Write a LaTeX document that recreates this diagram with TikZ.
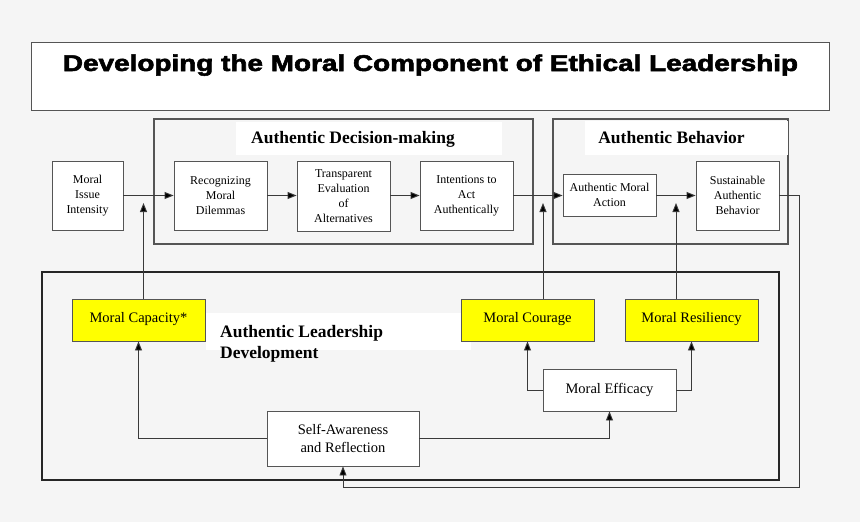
\documentclass[tikz,border=0pt]{standalone}
\usepackage{fontspec}
\setmainfont{Liberation Serif}
\newfontfamily\titlefont[FakeBold=2.2]{Liberation Sans Bold}
\usetikzlibrary{arrows.meta}
\definecolor{bg}{HTML}{F5F5F5}
\definecolor{edge}{HTML}{555555}
\definecolor{wire}{HTML}{3A3A3A}
\definecolor{hl}{HTML}{FFFF00}
\begin{document}
\begin{tikzpicture}[x=1pt,y=-1pt,
  box/.style={draw=edge, line width=0.9pt, fill=white, align=center, inner sep=0pt,
    font=\fontsize{12}{15}\selectfont},
  bigbox/.style={draw=edge, line width=0.9pt, fill=white, align=center, inner sep=0pt,
    font=\fontsize{14.5}{18}\selectfont},
  ybox/.style={draw=edge, line width=0.9pt, fill=hl, align=center, inner sep=0pt,
    font=\fontsize{14.5}{18}\selectfont, minimum width=133pt, minimum height=42pt,
    text height=10pt, text depth=6pt},
  frame/.style={draw=edge, line width=1.2pt, fill=bg},
  label/.style={fill=white, inner sep=0pt},
  head/.style={font=\fontsize{17.5}{21}\selectfont\bfseries, inner sep=0pt},
  arr/.style={draw=wire, line width=0.9pt, -{Triangle[length=9pt,width=7pt,fill=black]}},
  wire/.style={draw=wire, line width=0.9pt}
]
\useasboundingbox (0,0) rectangle (860,522);
\fill[bg] (0,0) rectangle (860,522);

% title
\node[draw=edge, line width=0.9pt, fill=white, minimum width=798pt, minimum height=68pt, inner sep=0pt] (titlebox) at (430,76) {};
\node[inner sep=0pt, anchor=base] (title) at (430.5,71)
  {\resizebox{735pt}{16.5pt}{\titlefont Developing the Moral Component of Ethical Leadership}};

% group frames
\node[frame, minimum width=379pt, minimum height=125pt, inner sep=0pt] (adm) at (343.5,181.5) {};
\node[label, minimum width=266pt, minimum height=33pt] (admlab) at (369,138.5) {};
\node[head, anchor=base] (admtxt) at (353,143) {Authentic Decision-making};

\node[frame, minimum width=235pt, minimum height=125pt, inner sep=0pt] (abh) at (670.5,181.5) {};
\node[label, minimum width=203pt, minimum height=34pt] (abhlab) at (686,138) {};
\node[head, anchor=base] (abhtxt) at (671.5,143) {Authentic Behavior};

\node[draw=black!85, line width=2.5pt, fill=bg, minimum width=737pt, minimum height=208pt, inner sep=0pt] (ald) at (410.5,376) {};
\node[label, minimum width=265pt, minimum height=37pt] (aldlab) at (338.5,331.5) {};
\node[head, anchor=north west, align=left] (aldtxt) at (220,325) {Authentic Leadership\\Development};

% top row
\node[box, minimum width=71pt, minimum height=69pt] (mii) at (87.5,195.5) {Moral\\Issue\\Intensity};
\node[box, minimum width=93pt, minimum height=69pt] (rmd) at (220.5,195.5) {Recognizing\\Moral\\Dilemmas};
\node[box, minimum width=93pt, minimum height=70pt] (tea) at (343.5,196) {Transparent\\Evaluation\\of\\Alternatives};
\node[box, minimum width=93pt, minimum height=69pt] (iaa) at (466.5,195.5) {Intentions to\\Act\\Authentically};
\node[box, minimum width=93pt, minimum height=42pt] (ama) at (609.5,195) {Authentic Moral\\Action};
\node[box, minimum width=83pt, minimum height=69pt] (sab) at (737.5,195.5) {Sustainable\\Authentic\\Behavior};

% bottom
\node[ybox] (cap) at (138.5,320) {Moral Capacity*};
\node[ybox] (cou) at (527.5,320) {Moral Courage};
\node[ybox] (res) at (691.5,320) {Moral Resiliency};
\node[bigbox, minimum width=133pt, minimum height=42pt] (eff) at (609.5,390) {Moral Efficacy};
\node[bigbox, minimum width=152pt, minimum height=55pt] (sar) at (343,438.5) {Self-Awareness\\and Reflection};

% connectors along the top
\draw[arr] (mii.east) -- (rmd.west);
\draw[arr] (rmd.east) -- (tea.west |- rmd.east);
\draw[arr] (tea.east |- iaa.west) -- (iaa.west);
\draw[arr] (iaa.east) -- (ama.west |- iaa.east);
\draw[arr] (ama.east |- sab.west) -- (sab.west);

% upward influences
\coordinate (capTip) at (143.5,203);
\coordinate (couTip) at (543,203);
\coordinate (resTip) at (676,203);
\draw[arr] (cap.north -| capTip) -- (capTip);
\draw[arr] (cou.north -| couTip) -- (couTip);
\draw[arr] (res.north -| resTip) -- (resTip);

% development links
\draw[arr] (sar.west) -| (cap.south);
\draw[arr] (sar.east) -| (eff.south);
\draw[arr] (eff.west) -| (cou.south);
\draw[arr] (eff.east) -| (res.south);

% feedback loop
\coordinate (fb) at (799.5,487);
\draw[arr] (sab.east) -| (fb) -| (sar.south);
\end{tikzpicture}
\end{document}
